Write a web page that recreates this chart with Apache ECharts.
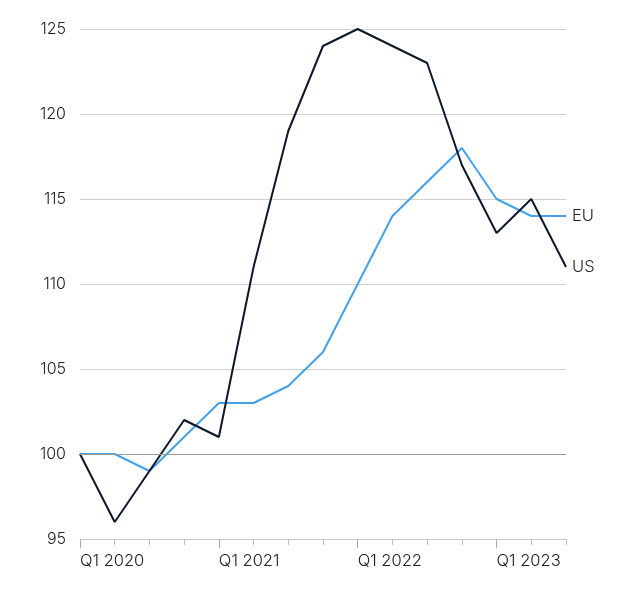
<!DOCTYPE html>
<html>
<head>
<meta charset="utf-8">
<script src="https://cdn.jsdelivr.net/npm/echarts@6/dist/echarts.min.js"></script>
<style>
  html, body { margin: 0; padding: 0; background: #fff; }
  #chart { width: 640px; height: 592px; }
</style>
</head>
<body>
<div id="chart"></div>
<script>
// quarters Q1 2020 .. Q3 2023
var quarters = ['Q1 2020', 'Q2 2020', 'Q3 2020', 'Q4 2020',
  'Q1 2021', 'Q2 2021', 'Q3 2021', 'Q4 2021',
  'Q1 2022', 'Q2 2022', 'Q3 2022', 'Q4 2022',
  'Q1 2023', 'Q2 2023', 'Q3 2023']
var usValues = [100, 96, 99, 102, 101, 111, 119, 124, 125, 124, 123, 117, 113, 115, 111]
var euValues = [100, 100, 99, 101, 103, 103, 104, 106, 110, 114, 116, 118, 115, 114, 114]
var baseLine = 100

var font = 'Inter, "Liberation Sans", sans-serif'

// only the Q1 quarters get a label and a long tick
function isQ1 (index) {
  return index % 4 === 0
}

var chart = echarts.init(document.getElementById('chart'))

var option = {
  animation: false,
  grid: { left: 80, right: 74, top: 29, bottom: 53, containLabel: false },
  xAxis: [{
    type: 'category',
    data: quarters,
    boundaryGap: false,
    axisLine: { show: true, lineStyle: { color: '#c8c8c8', width: 1 } },
    axisTick: { show: true, interval: 0, length: 6, lineStyle: { color: '#bdbdbd' } },
    axisLabel: {
      interval: function (index) { return isQ1(index) },
      align: 'left',
      margin: 14,
      color: '#222',
      fontSize: 16.5,
      fontWeight: 300,
      fontFamily: font
    },
    splitLine: { show: false }
  }, {
    // second axis only for the long ticks at Q1
    type: 'category',
    data: quarters,
    boundaryGap: false,
    position: 'bottom',
    axisLine: { show: false },
    axisTick: {
      show: true,
      interval: function (index) { return isQ1(index) },
      length: 9,
      lineStyle: { color: '#a8a8a8' }
    },
    axisLabel: { show: false },
    splitLine: { show: false }
  }],
  yAxis: {
    type: 'value',
    min: 95,
    max: 125,
    interval: 5,
    axisLine: { show: false },
    axisTick: { show: false },
    axisLabel: {
      margin: 14,
      color: '#222',
      fontSize: 16,
      fontWeight: 300,
      fontFamily: font
    },
    splitLine: { show: true, lineStyle: { color: '#d0d0d0', width: 1 } }
  },
  series: [{
    name: 'EU',
    type: 'line',
    data: euValues,
    symbol: 'none',
    lineStyle: { color: '#42a1ea', width: 2 },
    itemStyle: { color: '#42a1ea' },
    endLabel: {
      show: true,
      formatter: '{a}',
      distance: 6,
      color: '#222',
      fontSize: 16.5,
      fontWeight: 300,
      fontFamily: font
    },
    z: 3
  }, {
    name: 'US',
    type: 'line',
    data: usValues,
    symbol: 'none',
    lineStyle: { color: '#0c1829', width: 2 },
    itemStyle: { color: '#0c1829' },
    endLabel: {
      show: true,
      formatter: '{a}',
      distance: 6,
      color: '#222',
      fontSize: 16.5,
      fontWeight: 300,
      fontFamily: font
    },
    markLine: {
      silent: true,
      symbol: 'none',
      label: { show: false },
      lineStyle: { color: '#9a9a9a', width: 1, type: 'solid' },
      data: [{ yAxis: baseLine }]
    },
    z: 4
  }]
}

chart.setOption(option)
</script>
</body>
</html>
